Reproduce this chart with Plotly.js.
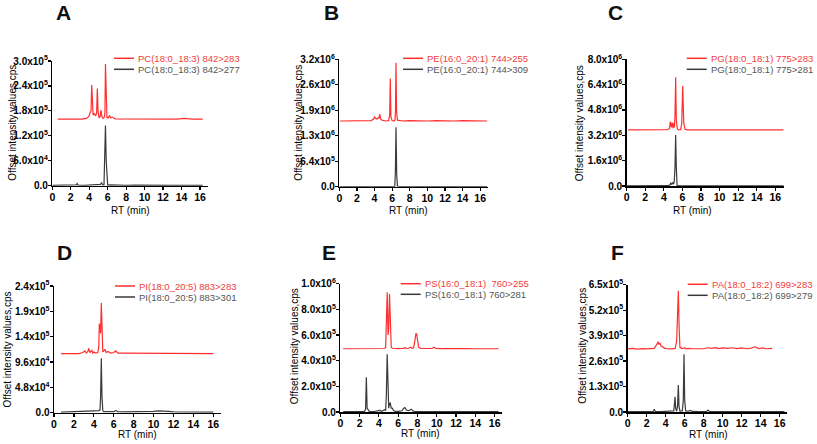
<!DOCTYPE html>
<html><head><meta charset="utf-8">
<script src="https://cdn.plot.ly/plotly-3.0.1.min.js"></script>
<style>html,body{margin:0;padding:0;background:#fff}#chart{width:817px;height:444px}</style>
</head><body><div id="chart"></div>
<script>
// ---------- DATA ----------
const panelLetters = ['A','B','C','D','E','F'];
const xTicks = [0,2,4,6,8,10,12,14,16];

// A  PC(18:0_18:3)
const A_name_red = 'PC(18:0_18:3) 842>283';
const A_name_black = 'PC(18:0_18:3) 842>277';
const A_rt_red = [0.6,1.5,2.4,3.2,3.7,3.95,4.1,4.2,4.27,4.34,4.42,4.55,4.7,4.8,4.88,4.96,5.06,5.18,5.28,5.38,5.5,5.62,5.7,5.76,5.83,5.92,6.05,6.2,6.35,6.5,6.8,7.5,8.5,9.5,10.5,11.5,12.5,13.5,14.3,14.6,15.2,16.3];
const A_int_red = [1.60e5,1.60e5,1.61e5,1.60e5,1.62e5,1.66e5,1.76e5,1.80e5,2.42e5,1.85e5,1.70e5,1.73e5,1.68e5,1.75e5,2.34e5,1.78e5,1.63e5,1.66e5,1.82e5,1.65e5,1.62e5,1.64e5,1.75e5,2.93e5,1.80e5,1.64e5,1.63e5,1.68e5,1.63e5,1.65e5,1.61e5,1.61e5,1.60e5,1.61e5,1.60e5,1.60e5,1.61e5,1.60e5,1.62e5,1.61e5,1.60e5,1.60e5];
const A_rt_black = [0,1,2,2.6,2.7,2.8,3.5,4.5,5.2,5.35,5.45,5.6,5.68,5.76,5.84,5.92,6.0,6.3,7,8,9,10,11,12,13,14,15,16.3];
const A_int_black = [1e3,1e3,1.5e3,2e3,5e3,1.5e3,1e3,1.5e3,3e3,7e3,2e3,2e3,5e4,1.45e5,6e4,4e3,1.5e3,2e3,1e3,1e3,1.5e3,1e3,1e3,1.2e3,1e3,1e3,1e3,1e3];
const A_yticks = [0,6e4,1.2e5,1.8e5,2.4e5,3e5];
const A_ylabels = ['0.0','6.0x10<sup>4</sup>','1.2x10<sup>5</sup>','1.8x10<sup>5</sup>','2.4x10<sup>5</sup>','3.0x10<sup>5</sup>'];

// B  PE(16:0_20:1)
const B_name_red = 'PE(16:0_20:1) 744>255';
const B_name_black = 'PE(16:0_20:1) 744>309';
const B_rt_red = [0.05,1,2,3,3.6,3.9,4.0,4.1,4.25,4.4,4.5,4.6,4.7,4.85,5.0,5.3,5.6,5.72,5.79,5.86,6.0,6.2,6.32,6.38,6.44,6.5,6.6,6.8,7.2,8,9,10,11,12,13,14,15,16,16.8];
const B_int_red = [1.65e6,1.65e6,1.66e6,1.65e6,1.66e6,1.70e6,1.76e6,1.72e6,1.70e6,1.73e6,1.72e6,1.82e6,1.70e6,1.67e6,1.66e6,1.65e6,1.66e6,1.80e6,2.72e6,1.75e6,1.66e6,1.65e6,1.67e6,1.9e6,3.11e6,1.9e6,1.67e6,1.66e6,1.65e6,1.66e6,1.65e6,1.65e6,1.66e6,1.65e6,1.65e6,1.66e6,1.65e6,1.65e6,1.65e6];
const B_rt_black = [0,1,2,3,3.8,4.0,4.3,5,6.0,6.3,6.37,6.44,6.52,6.6,6.8,7,8,9,10,11,12,13,14,15,16,16.8];
const B_int_black = [5e3,5e3,5e3,5e3,6e3,1.5e4,6e3,5e3,6e3,1e4,4e5,1.49e6,3e5,1.5e4,8e3,6e3,5e3,5e3,5e3,5e3,5e3,5e3,5e3,5e3,5e3,5e3];
const B_yticks = [0,6.4e5,1.28e6,1.92e6,2.56e6,3.2e6];
const B_ylabels = ['0.0','6.4x10<sup>5</sup>','1.3x10<sup>6</sup>','1.9x10<sup>6</sup>','2.6x10<sup>6</sup>','3.2x10<sup>6</sup>'];

// C  PG(18:0_18:1)
const C_name_red = 'PG(18:0_18:1) 775>283';
const C_name_black = 'PG(18:0_18:1) 775>281';
const C_rt_red = [0.15,1,2,3,4,4.4,4.6,4.7,4.8,4.9,4.98,5.06,5.14,5.2,5.27,5.34,5.45,5.6,5.8,5.92,6.03,6.14,6.28,6.5,7,8,9,10,11,12,13,14,15,16,16.9];
const C_int_red = [3.54e6,3.54e6,3.55e6,3.54e6,3.54e6,3.56e6,3.62e6,4.06e6,3.70e6,4.00e6,3.65e6,3.96e6,3.70e6,4.50e6,6.86e6,4.20e6,3.60e6,3.55e6,3.56e6,3.90e6,6.31e6,4.00e6,3.58e6,3.55e6,3.54e6,3.54e6,3.54e6,3.54e6,3.54e6,3.54e6,3.54e6,3.54e6,3.54e6,3.54e6,3.54e6];
const C_rt_black = [0,1,1.7,1.8,1.9,3,4,4.5,4.65,4.75,4.85,4.95,5.05,5.12,5.2,5.27,5.34,5.42,5.55,6,7,8,9,10,11,12,13,14,15,16,16.9];
const C_int_black = [1e4,1e4,1e4,4e4,1e4,1e4,1.2e4,2e4,8e4,1.8e5,9e4,2.2e5,1.2e5,3e5,1.2e6,3.22e6,1.2e6,5e4,1.5e4,1e4,1e4,1e4,1e4,1e4,1e4,1e4,1e4,1e4,1e4,1e4,1e4];
const C_yticks = [0,1.6e6,3.2e6,4.8e6,6.4e6,8e6];
const C_ylabels = ['0.0','1.6x10<sup>6</sup>','3.2x10<sup>6</sup>','4.8x10<sup>6</sup>','6.4x10<sup>6</sup>','8.0x10<sup>6</sup>'];

// D  PI(18:0_20:5)
const D_name_red = 'PI(18:0_20:5) 883>283';
const D_name_black = 'PI(18:0_20:5) 883>301';
const D_rt_red = [0.7,1.5,2.0,2.5,2.9,3.1,3.25,3.4,3.5,3.6,3.8,3.9,4.0,4.2,4.4,4.5,4.55,4.62,4.68,4.75,4.82,4.9,5.0,5.1,5.25,5.4,5.7,6.0,6.2,6.4,7,8,9,10,11,12,13,14,15,16];
const D_int_red = [1.12e5,1.12e5,1.13e5,1.12e5,1.14e5,1.17e5,1.13e5,1.16e5,1.22e5,1.14e5,1.18e5,1.13e5,1.15e5,1.13e5,1.14e5,1.25e5,1.69e5,1.55e5,1.50e5,2.08e5,1.35e5,1.16e5,1.17e5,1.20e5,1.14e5,1.16e5,1.13e5,1.14e5,1.17e5,1.13e5,1.13e5,1.13e5,1.12e5,1.13e5,1.12e5,1.12e5,1.13e5,1.12e5,1.12e5,1.12e5];
const D_rt_black = [0.7,2,3,4,4.5,4.62,4.68,4.75,4.82,4.9,5,5.5,6,6.2,6.4,7,8,9,10,10.5,11,11.5,12,13,14,15,16];
const D_int_black = [1e3,1.5e3,2.5e3,3.5e3,4e3,5e3,3e4,1.03e5,3e4,4e3,2e3,1.5e3,2e3,4e3,2e3,1.5e3,1.5e3,2e3,2.5e3,3.5e3,3.5e3,2.5e3,1.5e3,1e3,1e3,1e3,1e3];
const D_yticks = [0,4.8e4,9.6e4,1.44e5,1.92e5,2.4e5];
const D_ylabels = ['0.0','4.8x10<sup>4</sup>','9.6x10<sup>4</sup>','1.4x10<sup>5</sup>','1.9x10<sup>5</sup>','2.4x10<sup>5</sup>'];

// E  PS(16:0_18:1)
const E_name_red = 'PS(16:0_18:1)\u00a0 760>255';
const E_name_black = 'PS(16:0_18:1) 760>281';
const E_rt_red = [0.3,1,2,3,4,4.5,4.7,4.78,4.86,4.95,5.02,5.1,5.18,5.28,5.4,5.7,6,6.5,6.7,7.0,7.3,7.45,7.6,7.72,7.84,7.92,8.0,8.12,8.3,8.8,9.5,9.7,9.9,10.5,11,12,13,14,15,16,16.4];
const E_int_red = [4.93e5,4.93e5,4.94e5,4.93e5,4.94e5,4.95e5,5.0e5,6.5e5,9.33e5,6.0e5,6.5e5,9.2e5,6.0e5,5.05e5,4.97e5,4.95e5,4.94e5,4.96e5,5.0e5,4.95e5,5.05e5,4.97e5,5.0e5,5.5e5,6.13e5,6.05e5,5.6e5,5.05e5,4.96e5,4.94e5,4.95e5,5.05e5,4.95e5,4.94e5,4.93e5,4.93e5,4.94e5,4.93e5,4.93e5,4.93e5,4.93e5];
const E_rt_black = [0.3,1,2,2.5,2.62,2.7,2.78,2.9,3.0,3.5,4.0,4.1,4.3,4.6,4.7,4.78,4.86,4.95,5.02,5.1,5.18,5.28,5.38,5.5,5.6,6.0,6.4,6.55,6.7,6.85,7.1,7.35,7.5,7.7,8,9,10,11,12,13,14,15,16,16.4];
const E_int_black = [3e3,3e3,4e3,5e3,2e4,2.7e5,3e4,1.2e4,5e3,4e3,8e3,1.2e4,6e3,1.8e4,1.2e4,1.5e5,4.5e5,1.4e5,3e4,6.5e4,7e4,3e4,3e4,1.5e4,6e3,5e3,1e4,2.8e4,3.5e4,1.5e4,1e4,2.2e4,1e4,5e3,4e3,3e3,3e3,3e3,3e3,3e3,3e3,3e3,3e3,3e3];
const E_yticks = [0,2e5,4e5,6e5,8e5,1e6];
const E_ylabels = ['0.0','2.0x10<sup>5</sup>','4.0x10<sup>5</sup>','6.0x10<sup>5</sup>','8.0x10<sup>5</sup>','1.0x10<sup>6</sup>'];

// F  PA(18:0_18:2)
const F_name_red = 'PA(18:0_18:2) 699>283';
const F_name_black = 'PA(18:0_18:2) 699>279';
const F_rt_red = [0,0.5,1,1.5,2,2.5,2.8,3.0,3.1,3.2,3.3,3.4,3.5,3.7,3.9,4.2,4.6,5.0,5.15,5.25,5.33,5.42,5.5,5.7,6,6.2,6.4,6.8,7.2,7.6,8,8.5,8.8,9.2,9.6,10,10.5,11,11.5,12,12.5,13,13.4,13.8,14.2,14.6,15.2];
const F_int_red = [3.22e5,3.25e5,3.21e5,3.24e5,3.22e5,3.23e5,3.25e5,3.40e5,3.52e5,3.59e5,3.45e5,3.52e5,3.38e5,3.30e5,3.25e5,3.23e5,3.22e5,3.25e5,3.6e5,5.0e5,6.19e5,4.2e5,3.3e5,3.24e5,3.27e5,3.22e5,3.25e5,3.23e5,3.24e5,3.22e5,3.23e5,3.28e5,3.25e5,3.29e5,3.24e5,3.27e5,3.25e5,3.28e5,3.24e5,3.27e5,3.23e5,3.26e5,3.33e5,3.24e5,3.27e5,3.23e5,3.25e5];
const F_rt_black = [0,1,2,2.7,2.8,2.9,3.5,4.5,4.85,4.92,4.98,5.05,5.15,5.25,5.33,5.4,5.5,5.75,5.85,5.93,6.0,6.1,6.4,6.6,6.8,7.5,8.3,8.45,8.6,9,10,11,12,13,14,15,16,16.5];
const F_int_black = [2e3,2e3,3e3,3e3,1.4e4,3e3,2e3,3e3,6e3,4e4,7.8e4,2e4,4e3,3e4,1.38e5,3e4,4e3,5e3,6e4,2.95e5,6e4,5e3,4e3,8e3,3e3,2e3,3e3,1e4,3e3,2e3,2e3,2e3,2e3,2e3,2e3,2e3,2e3,2e3];
const F_yticks = [0,1.3e5,2.6e5,3.9e5,5.2e5,6.5e5];
const F_ylabels = ['0.0','1.3x10<sup>5</sup>','2.6x10<sup>5</sup>','3.9x10<sup>5</sup>','5.2x10<sup>5</sup>','6.5x10<sup>5</sup>'];

const xTitle = 'RT (min)';
const yTitle = 'Offset intensity values,cps';

// ---------- STYLE / GEOMETRY ----------
const W = 817, H = 444;
const FONT = 'Liberation Sans, Arial, sans-serif';
const RED = '#ff2f2f', RED_TXT = '#f03c3c', BLK = '#3a3a3a', BLK_TXT = '#555555';

const series = [
  {nr:A_name_red, nb:A_name_black, xr:A_rt_red, yr:A_int_red, xb:A_rt_black, yb:A_int_black, yt:A_yticks, yl:A_ylabels},
  {nr:B_name_red, nb:B_name_black, xr:B_rt_red, yr:B_int_red, xb:B_rt_black, yb:B_int_black, yt:B_yticks, yl:B_ylabels},
  {nr:C_name_red, nb:C_name_black, xr:C_rt_red, yr:C_int_red, xb:C_rt_black, yb:C_int_black, yt:C_yticks, yl:C_ylabels},
  {nr:D_name_red, nb:D_name_black, xr:D_rt_red, yr:D_int_red, xb:D_rt_black, yb:D_int_black, yt:D_yticks, yl:D_ylabels},
  {nr:E_name_red, nb:E_name_black, xr:E_rt_red, yr:E_int_red, xb:E_rt_black, yb:E_int_black, yt:E_yticks, yl:E_ylabels},
  {nr:F_name_red, nb:F_name_black, xr:F_rt_red, yr:F_int_red, xb:F_rt_black, yb:F_int_black, yt:F_yticks, yl:F_ylabels}
];

// pixel geometry per panel
const geo = [
  {x0:52.3, x1:208.3, xmax:16.9, yT:61,   yB:185.7, lx:137,   ly1:58.3,  ly2:69.3,  px:64,    py:12.5,  tx:12.2,  ty:122.5, rx:130,   ry:211},
  {x0:339.3,x1:487.7, xmax:16.85,yT:59.3, yB:186.7, lx:426,   ly1:58.3,  ly2:69.3,  px:331,   py:12.5,  tx:298.8, ty:123,   rx:408.5, ry:211},
  {x0:626.7,x1:783.7, xmax:16.9, yT:59.3, yB:186,   lx:709.7, ly1:58.3,  ly2:69.3,  px:615.7, py:12.5,  tx:580.2, ty:123,   rx:692,   ry:211},
  {x0:54,   x1:220.8, xmax:16.75,yT:286,  yB:412.7, lx:138,   ly1:286,   ly2:297,   px:64.7,  py:252.3, tx:7,     ty:349.5, rx:137.5, ry:434.5},
  {x0:340.3,x1:501.9, xmax:16.75,yT:283.7,yB:412,   lx:423.7, ly1:283.7, ly2:294.3, px:328.7, py:253,   tx:294.2, ty:346,   rx:420,   ry:433.5},
  {x0:627.7,x1:787.3, xmax:16.8, yT:284.7,yB:412,   lx:710.7, ly1:284.3, ly2:295.3, px:617,   py:253,   tx:581.8, ty:346,   rx:708,   ry:434}
];

const data = [];
const layout = {
  width: W, height: H,
  margin: {l:0, r:0, t:0, b:0, autoexpand:false},
  paper_bgcolor: '#fff', plot_bgcolor: 'rgba(0,0,0,0)',
  font: {family: FONT, color: '#000'},
  showlegend: false,
  annotations: [],
  shapes: []
};
const px2x = p => p / W;
const px2y = p => 1 - p / H;

function legendEntry(textX, lineY, label, lineColor, textColor) {
  layout.shapes.push({type:'line', xref:'paper', yref:'paper',
    x0:px2x(textX - 23), x1:px2x(textX - 3), y0:px2y(lineY), y1:px2y(lineY),
    line:{color:lineColor, width:1.5}});
  layout.annotations.push({text:label, xref:'paper', yref:'paper', x:px2x(textX - 1), y:px2y(lineY),
    xanchor:'left', yanchor:'middle', showarrow:false, font:{family:FONT, size:9.5, color:textColor}});
}

series.forEach((s, i) => {
  const g = geo[i];
  const n = i + 1;
  const xa = 'x' + (n === 1 ? '' : n), ya = 'y' + (n === 1 ? '' : n);
  data.push({x: s.xr, y: s.yr, type:'scatter', mode:'lines', xaxis:xa, yaxis:ya,
    line:{color:RED, width:1.2}, name:s.nr});
  data.push({x: s.xb, y: s.yb, type:'scatter', mode:'lines', xaxis:xa, yaxis:ya,
    line:{color:BLK, width:1.2}, name:s.nb});

  const ymax = s.yt[s.yt.length-1];
  layout['xaxis' + (n === 1 ? '' : n)] = {
    domain:[px2x(g.x0), px2x(g.x1)], range:[0, g.xmax], anchor: ya,
    tickvals: xTicks, ticktext: xTicks.map(String),
    showline:true, linewidth:1.5, linecolor:'#000', showgrid:false, zeroline:false,
    ticks:'outside', ticklen:3, tickwidth:1.2, tickcolor:'#000', ticklabelstandoff:-2,
    tickfont:{family:FONT, size:10.5, color:'#000', weight:'bold'}
  };
  layout['yaxis' + (n === 1 ? '' : n)] = {
    domain:[px2y(g.yB), px2y(g.yT)], range:[0, ymax], anchor: xa,
    tickvals: s.yt, ticktext: s.yl,
    showline:true, linewidth:1.5, linecolor:'#000', showgrid:false, zeroline:false,
    ticks:'outside', ticklen:3, tickwidth:1.2, tickcolor:'#000', ticklabelstandoff:-2,
    tickfont:{family:FONT, size:10, color:'#000', weight:'bold'}
  };

  legendEntry(g.lx, g.ly1, s.nr, RED, RED_TXT);
  legendEntry(g.lx, g.ly2, s.nb, BLK, BLK_TXT);

  layout.annotations.push({text: panelLetters[i], xref:'paper', yref:'paper', x:px2x(g.px), y:px2y(g.py),
    xanchor:'center', yanchor:'middle', showarrow:false, font:{family:FONT, size:21, color:'#111', weight:'bold'}});
  layout.annotations.push({text: yTitle, xref:'paper', yref:'paper', x:px2x(g.tx), y:px2y(g.ty),
    xanchor:'center', yanchor:'middle', showarrow:false, textangle:-90, font:{family:FONT, size:10, color:'#000'}});
  layout.annotations.push({text: xTitle, xref:'paper', yref:'paper', x:px2x(g.rx), y:px2y(g.ry),
    xanchor:'center', yanchor:'middle', showarrow:false, font:{family:FONT, size:10, color:'#000'}});
});

Plotly.newPlot('chart', data, layout, {staticPlot:true, displayModeBar:false});
</script></body></html>
